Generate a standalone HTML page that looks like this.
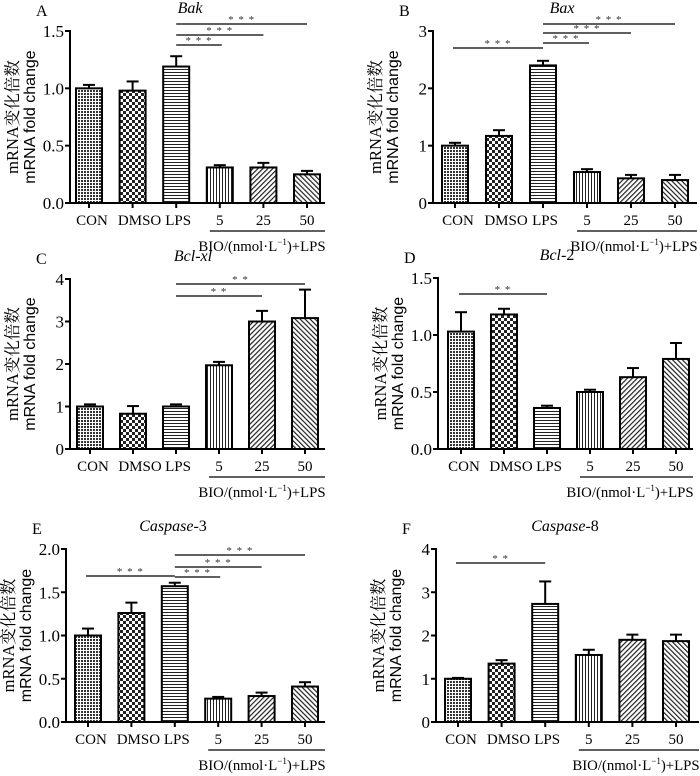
<!DOCTYPE html>
<html><head><meta charset="utf-8"><style>
html,body{margin:0;padding:0;background:#fff;}
svg{display:block;font-family:"Liberation Serif","Noto Serif CJK SC",serif;}
</style></head><body>
<svg id="fig" width="700" height="776" viewBox="0 0 700 776" xmlns="http://www.w3.org/2000/svg">
<defs>
<pattern id="p0" width="3" height="3" patternUnits="userSpaceOnUse"><rect width="3" height="3" fill="#fff"/><rect width="2" height="2" fill="#333"/></pattern>
<pattern id="p1" width="6" height="6" patternUnits="userSpaceOnUse"><rect width="6" height="6" fill="#fff"/><rect width="3" height="3" fill="#222"/><rect x="3" y="3" width="3" height="3" fill="#222"/></pattern>
<pattern id="p2" width="4" height="3" patternUnits="userSpaceOnUse"><rect width="4" height="3" fill="#fff"/><rect width="4" height="1" fill="#222"/></pattern>
<pattern id="p3" width="3" height="4" patternUnits="userSpaceOnUse"><rect width="3" height="4" fill="#fff"/><rect width="1" height="4" fill="#222"/></pattern>
<pattern id="p4" width="3.5" height="3.5" patternUnits="userSpaceOnUse" patternTransform="rotate(45)"><rect width="3.5" height="3.5" fill="#fff"/><rect width="1.2" height="3.5" fill="#222"/></pattern>
<pattern id="p5" width="3.5" height="3.5" patternUnits="userSpaceOnUse" patternTransform="rotate(-45)"><rect width="3.5" height="3.5" fill="#fff"/><rect width="1.2" height="3.5" fill="#222"/></pattern>
</defs>
</svg>
<script>
const categories = ["CON","DMSO","LPS","5","25","50"];
const valuesA = [1.0, 0.98, 1.19, 0.31, 0.31, 0.25];
const errorsA = [0.03, 0.08, 0.09, 0.02, 0.04, 0.03];
const ticksA = ["0.0","0.5","1.0","1.5"];
const valuesB = [1.0, 1.17, 2.40, 0.54, 0.43, 0.40];
const errorsB = [0.05, 0.10, 0.08, 0.05, 0.06, 0.09];
const ticksB = ["0","1","2","3"];
const valuesC = [1.0, 0.83, 1.0, 1.97, 3.0, 3.08];
const errorsC = [0.05, 0.18, 0.05, 0.08, 0.25, 0.67];
const ticksC = ["0","1","2","3","4"];
const valuesD = [1.03, 1.18, 0.36, 0.50, 0.63, 0.79];
const errorsD = [0.17, 0.05, 0.02, 0.02, 0.08, 0.14];
const ticksD = ["0.0","0.5","1.0","1.5"];
const valuesE = [1.0, 1.26, 1.57, 0.27, 0.30, 0.41];
const errorsE = [0.08, 0.12, 0.04, 0.02, 0.04, 0.05];
const ticksE = ["0.0","0.5","1.0","1.5","2.0"];
const valuesF = [1.0, 1.35, 2.73, 1.55, 1.90, 1.87];
const errorsF = [0.02, 0.08, 0.52, 0.12, 0.12, 0.15];
const ticksF = ["0","1","2","3","4"];
// significance brackets: [fromIndex, toIndex, stars]
const sigA = [[2,5,"***"],[2,4,"***"],[2,3,"***"]];
const sigB = [[0,2,"***"],[2,5,"***"],[2,4,"***"],[2,3,"***"]];
const sigC = [[2,5,"**"],[2,4,"**"]];
const sigD = [[0,2,"**"]];
const sigE = [[0,2,"***"],[2,5,"***"],[2,4,"***"],[2,3,"***"]];
const sigF = [[0,2,"**"]];

const NS="http://www.w3.org/2000/svg";
const svg=document.getElementById('fig');
function el(tag,attrs,parent,text){const e=document.createElementNS(NS,tag);for(const k in attrs)e.setAttribute(k,attrs[k]);if(text!==undefined)e.textContent=text;(parent||svg).appendChild(e);return e;}

function panel(p){
  const g=el('g',{},svg);
  
  
  const ymax=parseFloat(p.ticks[p.ticks.length-1]);
  const y=v=>p.y0-(v/ymax)*(p.y0-p.yTop);
  const x=i=>p.c0+i*p.step;
  const bw=26;
  const lt=el('text',{x:p.ax-34,y:p.yTop-15,'font-size':16},g,p.letter);
  
  
  const tt=el('text',{x:p.titleX,y:p.yTop-18,'font-size':16,'font-style':'italic','text-anchor':'middle'},g);
  
  
  el('tspan',{},tt,p.title);
  if(p.titleSuffix)el('tspan',{'font-style':'normal'},tt,p.titleSuffix);
  const cy=(p.y0+p.yTop)/2;
  const yl=el('text',{transform:`translate(${p.ax-52},${cy}) rotate(-90)`,'font-size':16.5,'text-anchor':'middle'},g,'mRNA变化倍数');
  
  
  const yl2=el('text',{transform:`translate(${p.ax-35},${cy}) rotate(-90)`,'font-size':16,'text-anchor':'middle','font-family':'Liberation Sans, sans-serif'},g,'mRNA fold change');
  
  
  const ya=el('line',{x1:p.ax,y1:p.yTop-1,x2:p.ax,y2:p.y0,stroke:'#000','stroke-width':2},g);
  
  
  const xa=el('line',{x1:p.ax,y1:p.y0,x2:p.xEnd,y2:p.y0,stroke:'#000','stroke-width':2},g);
  
  
  p.ticks.forEach(t=>{
    const v=parseFloat(t);const yy=y(v);
    el('line',{x1:p.ax-5,y1:yy,x2:p.ax,y2:yy,stroke:'#000','stroke-width':2},g);
    const tl=el('text',{x:p.ax-6,y:yy+6,'font-size':17,'text-anchor':'end'},g,t);
    
    
  });
  categories.forEach((c,i)=>{
    const v=p.values[i],e=p.errors[i],cx=x(i);
    const ey=y(v+e);
    el('line',{x1:cx,y1:y(v),x2:cx,y2:ey,stroke:'#000','stroke-width':2},g);
    el('line',{x1:cx-6,y1:ey,x2:cx+6,y2:ey,stroke:'#000','stroke-width':2},g);
    const r=el('rect',{x:cx-bw/2,y:y(v),width:bw,height:p.y0-y(v),fill:`url(#p${i})`,stroke:'#000','stroke-width':2},g);
    
    
    el('line',{x1:cx,y1:p.y0,x2:cx,y2:p.y0+5,stroke:'#000','stroke-width':2},g);
    const cl=el('text',{x:cx+(i==0?3:i==1?7:i==2?2:0),y:p.y0+22,'font-size':15,'text-anchor':'middle'},g,c);
    
    
  });
  const gx1=x(3)-10,gx2=p.xEnd;
  el('line',{x1:gx1,y1:p.y0+28,x2:gx2,y2:p.y0+28,stroke:'#000','stroke-width':1.3},g);
  const gl=el('text',{x:p.xEnd-63,y:p.y0+48,'font-size':14.8,'text-anchor':'middle'},g);
  
  
  el('tspan',{},gl,'BIO/(nmol·L');
  el('tspan',{'font-size':9,dy:-6},gl,'−1');
  el('tspan',{dy:6},gl,')+LPS');
  p.sig.forEach((s,k)=>{
    const ly=p.sigY[k];
    const x1=x(s[0])+(s[0]==0?-2:0),x2=x(s[1])+(s[1]==3?2:0);
    const sl=el('line',{x1:x1,y1:ly,x2:x2,y2:ly,stroke:'#000','stroke-width':1.3},g);
    
    
    const st=el('text',{x:(x1+x2)/2,y:ly-1,'font-size':11,'text-anchor':'middle','letter-spacing':'1',fill:'#333'},g,s[2].split('').join(' '));
    
    
  });
}

panel({letter:'A',title:'Bak',titleX:190,ax:70,yTop:31,y0:203,c0:89,step:43.6,xEnd:325,values:valuesA,errors:errorsA,ticks:ticksA,sig:sigA,sigY:[24,35,45]});
panel({letter:'B',title:'Bax',titleX:562,ax:433,yTop:31,y0:203,c0:455,step:44,xEnd:697,values:valuesB,errors:errorsB,ticks:ticksB,sig:sigB,sigY:[48,24,33,43]});
panel({letter:'C',title:'Bcl-xl',titleX:193,ax:70,yTop:279,y0:449,c0:90,step:43,xEnd:325,values:valuesC,errors:errorsC,ticks:ticksC,sig:sigC,sigY:[284,296]});
panel({letter:'D',title:'Bcl',titleSuffix:'-2',titleX:557,ax:438,yTop:278,y0:449,c0:461,step:43,xEnd:693,values:valuesD,errors:errorsD,ticks:ticksD,sig:sigD,sigY:[294]});
panel({letter:'E',title:'Caspase',titleSuffix:'-3',titleX:173,ax:66,yTop:549,y0:722,c0:88,step:43.4,xEnd:325,values:valuesE,errors:errorsE,ticks:ticksE,sig:sigE,sigY:[576,555,567,577]});
panel({letter:'F',title:'Caspase',titleSuffix:'-8',titleX:565,ax:436,yTop:549,y0:722,c0:458,step:43.6,xEnd:699,values:valuesF,errors:errorsF,ticks:ticksF,sig:sigF,sigY:[563]});
</script>
</body></html>
